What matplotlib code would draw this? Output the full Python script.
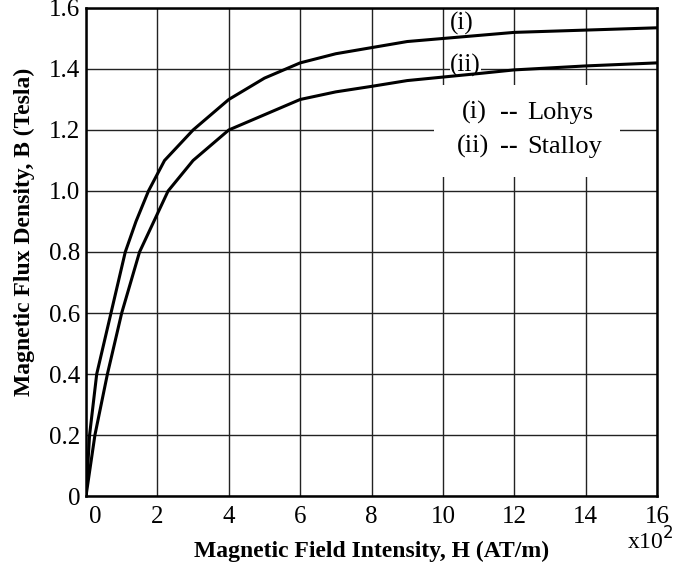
import numpy as np
import matplotlib
matplotlib.use("Agg")
from matplotlib import pyplot as plt
from matplotlib.transforms import ScaledTranslation

# B-H data, H in units of 10^2 AT/m
h_lohys = [0, 0.1, 0.3, 0.5, 0.7, 1.1, 1.4, 1.75, 2.2, 3, 4, 5, 6, 7, 8, 9, 10, 12, 16]
b_lohys = [0, 0.2, 0.4, 0.5, 0.6, 0.8, 0.9, 1.0, 1.1, 1.2, 1.3, 1.37, 1.42, 1.45, 1.47, 1.49, 1.5, 1.52, 1.535]

h_stalloy = [0, 0.25, 0.6, 1.0, 1.5, 1.9, 2.3, 3, 4, 5, 6, 7, 8, 9, 11, 12, 14, 16]
b_stalloy = [0, 0.2, 0.4, 0.6, 0.8, 0.9, 1.0, 1.1, 1.2, 1.25, 1.3, 1.325, 1.343, 1.362, 1.385, 1.397, 1.41, 1.42]

x_ticks = [0, 2, 4, 6, 8, 10, 12, 14, 16]
y_ticks = [0, 0.2, 0.4, 0.6, 0.8, 1.0, 1.2, 1.4, 1.6]
y_tick_labels = ['0', '0.2', '0.4', '0.6', '0.8', '1.0', '1.2', '1.4', '1.6']

plt.rcParams['font.family'] = ['Liberation Serif', 'DejaVu Serif']

fig = plt.figure(figsize=(6.81, 5.70), dpi=100)
ax = fig.add_axes([0.1263, 0.1298, 0.8385, 0.8562])

ax.plot(h_lohys, b_lohys, color='black', lw=2.2, zorder=3)
ax.plot(h_stalloy, b_stalloy, color='black', lw=2.2, zorder=3)

ax.set_xlim(0, 16)
ax.set_ylim(0, 1.6)
ax.set_xticks(x_ticks)
ax.set_yticks(y_ticks)
ax.set_yticklabels(y_tick_labels)
ax.tick_params(length=0, labelsize=18)
ax.tick_params(axis='x', pad=7)
ax.tick_params(axis='y', pad=4)
ax.grid(True, color='#222222', lw=1.0)
ax.set_axisbelow(True)
for s in ax.spines.values():
    s.set_linewidth(1.8)

# shift the "0" x tick label a little to the right
lbl0 = ax.get_xticklabels()[0]
lbl0.set_transform(lbl0.get_transform() + ScaledTranslation(9 / 100, 0, fig.dpi_scale_trans))

ax.set_xlabel('Magnetic Field Intensity, H (AT/m)', fontsize=17, fontweight='bold')
ax.set_ylabel('Magnetic Flux Density, B (Tesla)', fontsize=17, fontweight='bold')
ax.xaxis.set_label_coords(0.5, -0.092)
ax.yaxis.set_label_coords(-0.089, 0.541)

fig.text(0.955, 0.051, r'x10$^2$', fontsize=17, ha='center', va='center')

# curve labels
ax.text(10.52, 1.55, '(i)', fontsize=18, ha='center', va='center')
ax.text(10.63, 1.41, '(ii)', fontsize=18, ha='center', va='center', zorder=2.5,
        bbox=dict(facecolor='white', edgecolor='none', pad=0.3))

# legend box
ax.fill_between([9.75, 14.97], 1.046, 1.348, color='white', zorder=2, lw=0)
ax.text(10.53, 1.256, '(i)', fontsize=19, ha='left', va='center', zorder=4)
ax.text(11.61, 1.256, '--', fontsize=19, fontweight='bold', ha='left', va='center', zorder=4)
ax.text(12.36, 1.256, 'Lohys', fontsize=19, ha='left', va='center', zorder=4)
ax.text(10.40, 1.145, '(ii)', fontsize=19, ha='left', va='center', zorder=4)
ax.text(11.61, 1.145, '--', fontsize=19, fontweight='bold', ha='left', va='center', zorder=4)
ax.text(12.36, 1.145, 'Stalloy', fontsize=19, ha='left', va='center', zorder=4)

fig.savefig('out.png', dpi=100)
